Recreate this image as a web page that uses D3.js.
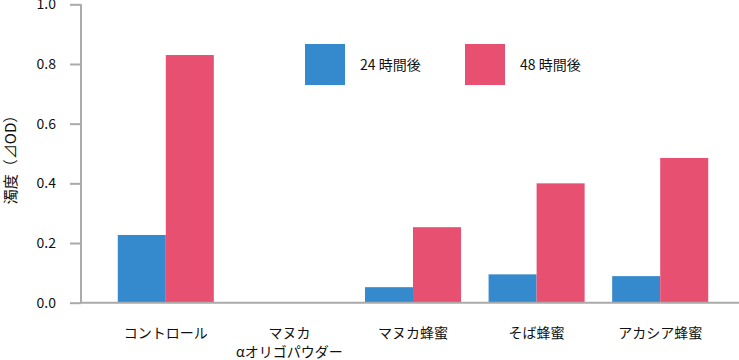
<html>
<head>
  <meta charset="utf-8">
  <script src="https://cdn.jsdelivr.net/npm/d3@7"></script>
  <style>
    body { margin: 0; background: #fff; }
    text { font-family: "Noto Sans CJK JP", "Noto Sans", sans-serif; fill: #111; }
    .axis path, .axis line { stroke: #aaa; stroke-width: 2; }
  </style>
</head>
<body>
<script>
  // Data
  const categories = ["コントロール", "マヌカ\nαオリゴパウダー", "マヌカ蜂蜜", "そば蜂蜜", "アカシア蜂蜜"];
  const series = ["24 時間後", "48 時間後"];
  const after24 = [0.227, null, 0.052, 0.095, 0.089];
  const after48 = [0.830, null, 0.253, 0.400, 0.485];
  const yTicks = [0, 0.2, 0.4, 0.6, 0.8, 1.0];
  const colors = ["#3589cd", "#e85072"];

  const w = 739, h = 360;

  const svg = d3.select("body").append("svg")
    .attr("width", w).attr("height", h);

  const xScale = d3.scaleBand()
    .domain(categories)
    .range([104, 722])
    .paddingInner(0.223)
    .paddingOuter(0.1115);

  const xSub = d3.scaleBand()
    .domain(series)
    .range([0, xScale.bandwidth()]);

  const yScale = d3.scaleLinear()
    .domain([0, 1])
    .range([302.7, 4.3]);

  // Bars
  const rows = categories.map((c, i) => ({ cat: c, vals: [after24[i], after48[i]] }));
  const groups = svg.append("g").selectAll("g")
    .data(rows).join("g")
    .attr("transform", d => "translate(" + xScale(d.cat) + ",0)");

  groups.selectAll("rect")
    .data(d => d.vals.map((v, j) => ({ s: series[j], v: v, j: j })).filter(d => d.v != null))
    .join("rect")
    .attr("x", d => xSub(d.s))
    .attr("width", xSub.bandwidth())
    .attr("y", d => yScale(d.v))
    .attr("height", d => yScale(0) - yScale(d.v))
    .attr("fill", d => colors[d.j]);

  // Y axis
  const yAxis = d3.axisLeft(yScale)
    .tickValues(yTicks)
    .tickFormat(d3.format(".1f"))
    .tickSize(11)
    .tickPadding(14);

  const gy = svg.append("g")
    .attr("class", "axis")
    .attr("transform", "translate(81,0)")
    .call(yAxis);
  gy.select(".domain").attr("d", "M0," + yScale(1) + "V" + yScale(0));
  gy.selectAll(".tick text").attr("font-size", 14).attr("fill", "#111");

  // X axis baseline
  svg.append("line")
    .attr("x1", 81).attr("x2", w)
    .attr("y1", yScale(0)).attr("y2", yScale(0))
    .attr("stroke", "#aaa").attr("stroke-width", 2);

  // Category labels
  const labels = svg.append("g").selectAll("text")
    .data(categories).join("text")
    .attr("x", d => xScale(d) + xScale.bandwidth() / 2)
    .attr("y", 338)
    .attr("text-anchor", "middle")
    .attr("font-size", 14);
  labels.selectAll("tspan")
    .data(d => d.split("\n")).join("tspan")
    .attr("x", function() { return this.parentNode.getAttribute("x"); })
    .attr("dy", (d, i) => i === 0 ? 0 : 19)
    .text(d => d);

  // Y title
  svg.append("text")
    .attr("transform", "translate(15.5,156) rotate(-90)")
    .attr("text-anchor", "middle")
    .attr("font-size", 15)
    .text("濁度（⊿OD）");

  // Legend
  const legendX = [305, 465];
  series.forEach((s, i) => {
    svg.append("rect")
      .attr("x", legendX[i]).attr("y", 44)
      .attr("width", 40).attr("height", 41)
      .attr("fill", colors[i]);
    svg.append("text")
      .attr("x", legendX[i] + 55).attr("y", 70)
      .attr("font-size", 14)
      .text(s);
  });
</script>
</body>
</html>
